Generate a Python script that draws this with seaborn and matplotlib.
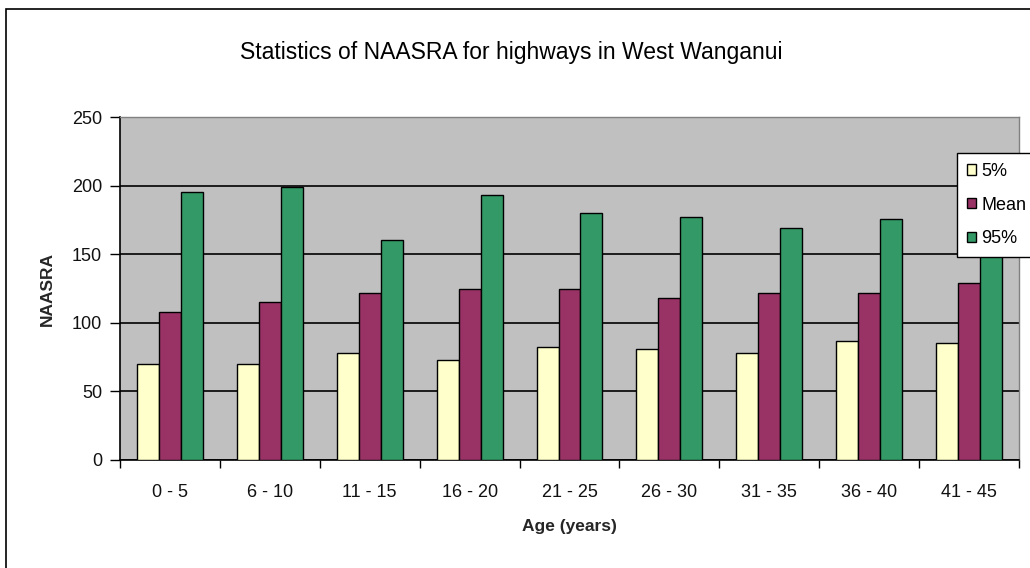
import matplotlib
matplotlib.use('Agg')
import matplotlib.pyplot as plt
from matplotlib.patches import Rectangle
import pandas as pd
import seaborn as sns

age_groups = ['0 - 5', '6 - 10', '11 - 15', '16 - 20', '21 - 25',
              '26 - 30', '31 - 35', '36 - 40', '41 - 45']
p5 = [70, 70, 78, 73, 82, 81, 78, 87, 85]
mean = [108, 115, 122, 125, 125, 118, 122, 122, 129]
p95 = [195, 199, 160, 193, 180, 177, 169, 176, 180]
series_names = ['5%', 'Mean', '95%']
yticks = [0, 50, 100, 150, 200, 250]


def plot_naasra():
    sns.set_theme(style='white')
    plt.rcParams['font.family'] = ['Liberation Sans', 'DejaVu Sans']
    plt.rcParams['text.color'] = 'black'

    df = pd.DataFrame({'age': age_groups, '5%': p5, 'Mean': mean, '95%': p95})
    df = df.melt(id_vars='age', var_name='stat', value_name='naasra')

    fig = plt.figure(figsize=(10.3, 5.68), dpi=100)
    fig.patch.set_facecolor('white')
    # outer chart border (only left/top visible in the reference)
    fig.patches.append(Rectangle((6 / 1030, -0.05), 1.1, 1 - 9 / 568 + 0.05,
                                 transform=fig.transFigure, fill=False,
                                 edgecolor='black', lw=1.2, zorder=0))

    ax = fig.add_axes([120 / 1030, 1 - 460 / 568, 899 / 1030, 343 / 568])
    ax.set_facecolor('#C0C0C0')

    palette = {'5%': '#FFFFCC', 'Mean': '#993366', '95%': '#339966'}
    sns.barplot(data=df, x='age', y='naasra', hue='stat', hue_order=series_names,
                palette=palette, width=0.66, edgecolor='black', linewidth=1,
                saturation=1, ax=ax, zorder=3)

    ax.set_ylim(0, 250)
    ax.set_xlim(-0.5, len(age_groups) - 0.5)
    ax.set_yticks(yticks)
    ax.yaxis.grid(True, color='black', lw=1.2, zorder=1)
    ax.set_axisbelow(True)
    ax.tick_params(axis='y', which='major', length=7, width=1, color='black',
                   labelsize=13, pad=6, left=True, labelcolor='#111111')
    ax.tick_params(axis='x', which='major', length=0, labelsize=13, pad=17,
                   labelcolor='#111111')
    ax.set_xticks([i - 0.5 for i in range(len(age_groups) + 1)], minor=True)
    ax.tick_params(axis='x', which='minor', length=6, width=1, color='black',
                   bottom=True, direction='out')
    for s in ['left', 'bottom']:
        ax.spines[s].set_color('black')
        ax.spines[s].set_linewidth(1.2)
    for s in ['top', 'right']:
        ax.spines[s].set_color('#808080')
        ax.spines[s].set_linewidth(1)

    ax.set_xlabel('Age (years)', fontsize=12.5, fontweight='bold', labelpad=13)
    ax.set_ylabel('NAASRA', fontsize=12.5, fontweight='bold', labelpad=12)

    fig.text(511 / 1030, 1 - 52 / 568, 'Statistics of NAASRA for highways in West Wanganui',
             ha='center', va='center', fontsize=16.5)

    handles, labels = ax.get_legend_handles_labels()
    ax.get_legend().remove()
    leg = fig.legend(handles, labels, loc='upper left',
                     bbox_to_anchor=(957 / 1030, 1 - 153 / 568),
                     frameon=True, fancybox=False, shadow=False, fontsize=13,
                     handlelength=0.5, handleheight=0.5, handletextpad=0.28,
                     labelspacing=0.92, borderpad=0.55, borderaxespad=0)
    leg.get_frame().set_edgecolor('black')
    leg.get_frame().set_linewidth(1)
    leg.get_frame().set_facecolor('white')
    leg.get_frame().set_alpha(1)

    fig.savefig('out.png', dpi=100)


if __name__ == '__main__':
    plot_naasra()
